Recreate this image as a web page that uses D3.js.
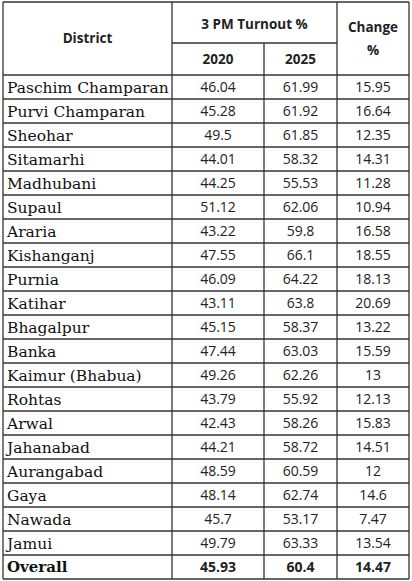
<!DOCTYPE html>
<html><head><meta charset="utf-8">
<script src="https://cdn.jsdelivr.net/npm/d3@7"></script>
<style>body{margin:0;background:#fff}</style></head>
<body><svg id="c" width="412" height="581"></svg>
<script>
const districts=["Paschim Champaran","Purvi Champaran","Sheohar","Sitamarhi","Madhubani","Supaul","Araria","Kishanganj","Purnia","Katihar","Bhagalpur","Banka","Kaimur (Bhabua)","Rohtas","Arwal","Jahanabad","Aurangabad","Gaya","Nawada","Jamui","Overall"];
const t2020=["46.04","45.28","49.5","44.01","44.25","51.12","43.22","47.55","46.09","43.11","45.15","47.44","49.26","43.79","42.43","44.21","48.59","48.14","45.7","49.79","45.93"];
const t2025=["61.99","61.92","61.85","58.32","55.53","62.06","59.8","66.1","64.22","63.8","58.37","63.03","62.26","55.92","58.26","58.72","60.59","62.74","53.17","63.33","60.4"];
const change=["15.95","16.64","12.35","14.31","11.28","10.94","16.58","18.55","18.13","20.69","13.22","15.59","13","12.13","15.83","14.51","12","14.6","7.47","13.54","14.47"];
(function(){
const svg=d3.select("#c");
const xs=[3,172,264,337,409];
const yTop=2,mid=43,hb=75,bot=579;
const y=d3.scaleBand().domain(d3.range(districts.length)).range([hb,bot]);
const g=svg.append("g");
const num="'Open Sans',sans-serif";
districts.forEach((d,i)=>{
  const yc=y(i)+y.bandwidth()/2;
  const bold=i===districts.length-1;
  g.append("text").attr("x",7).attr("y",yc).attr("dy","0.36em").text(d)
   .attr("font-family","'DejaVu Serif',serif").attr("font-size",bold?15:15.5).attr("font-weight",bold?"bold":"normal").attr("fill","#111");
  [t2020[i],t2025[i],change[i]].forEach((v,j)=>{
    g.append("text").attr("x",(xs[j+1]+xs[j+2])/2).attr("y",yc).attr("dy","0.36em").attr("text-anchor","middle")
     .text(v).attr("font-family",num).attr("font-size",14).attr("font-weight",bold?"bold":"normal").attr("fill","#222");
  });
});
const h=(t,x,yy)=>g.append("text").attr("x",x).attr("y",yy).attr("text-anchor","middle").attr("dy","0.36em").text(t)
  .attr("font-family",num).attr("font-size",13.5).attr("font-weight","bold").attr("fill","#222");
h("District",(xs[0]+xs[1])/2,38);
h("3 PM Turnout %",(xs[1]+xs[3])/2,24);
h("2020",(xs[1]+xs[2])/2,59);
h("2025",(xs[2]+xs[3])/2,59);
h("Change",(xs[3]+xs[4])/2,27);
h("%",(xs[3]+xs[4])/2,50);
const L=(x1,y1,x2,y2,w)=>g.append("line").attr("x1",x1).attr("y1",y1).attr("x2",x2).attr("y2",y2).attr("stroke","#333").attr("stroke-width",w||1.3);
L(xs[0],yTop,xs[4],yTop);
L(xs[1],mid,xs[3],mid);
L(xs[0],hb,xs[4],hb,1.6);
d3.range(1,districts.length).forEach(i=>L(xs[0],y(i),xs[4],y(i)));
L(xs[0],bot,xs[4],bot,1.6);
L(xs[0],yTop,xs[0],bot);L(xs[1],yTop,xs[1],bot);L(xs[2],mid,xs[2],bot);L(xs[3],yTop,xs[3],bot);L(xs[4],yTop,xs[4],bot);
})();
</script></body></html>
